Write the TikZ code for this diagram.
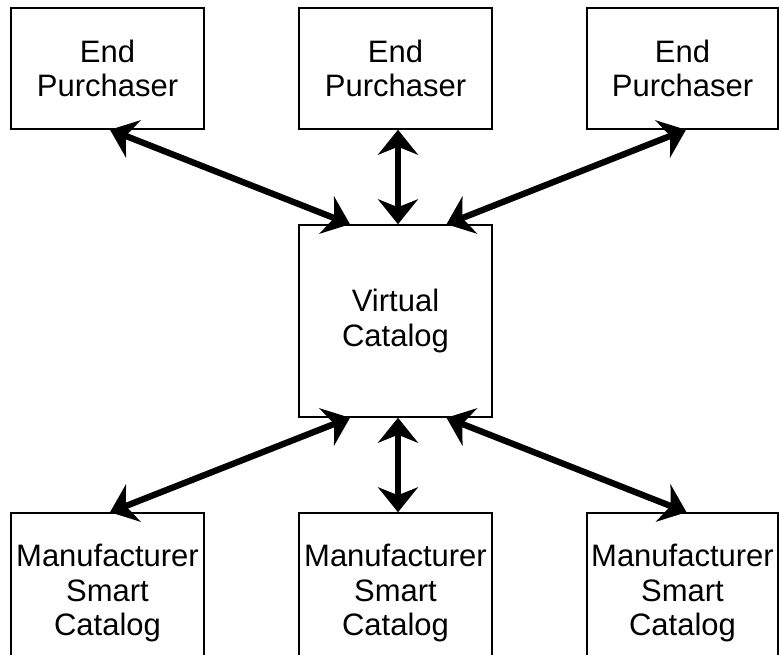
\documentclass[tikz,border=0pt]{standalone}
\usepackage{fontspec}
\setmainfont{Liberation Sans}
\usetikzlibrary{arrows.meta}
\tikzset{
  box/.style={draw=black, line width=1.5pt, rectangle, inner sep=0pt, align=center,
    minimum width=193pt, font=\fontsize{31}{34.5}\selectfont},
  link/.style={line width=6.3pt, {Stealth[length=25pt,width=40pt,inset=8pt]}-{Stealth[length=25pt,width=40pt,inset=8pt]}}
}
\begin{document}
\begin{tikzpicture}[x=1pt,y=-1pt]
\clip (0,0) rectangle (779,655);
\fill[white] (0,0) rectangle (779,655);
\node[box, minimum height=121pt] (tl) at (107.5,68.5) {End\\Purchaser};
\node[box, minimum height=121pt] (tm) at (395.5,68.5) {End\\Purchaser};
\node[box, minimum height=121pt, minimum width=191pt] (tr) at (682.5,68.5) {End\\Purchaser};
\node[box, minimum height=192pt] (vc) at (395.5,321) {Virtual\\Catalog};
\node[box, minimum height=160pt] (bl) at (107.5,593) {Manufacturer\\Smart\\Catalog};
\node[box, minimum height=160pt] (bm) at (395.5,593) {Manufacturer\\Smart\\Catalog};
\node[box, minimum height=160pt, minimum width=191pt] (br) at (682.5,593) {Manufacturer\\Smart\\Catalog};
\draw[link] ([xshift=2.5pt]tl.south) -- ([xshift=-45.5pt]vc.north);
\draw[link] ([xshift=2.5pt]tm.south) -- ([xshift=2.5pt]vc.north);
\draw[link] ([xshift=3.5pt]tr.south) -- ([xshift=51pt]vc.north);
\draw[link] ([xshift=2.5pt]bl.north) -- ([xshift=-45.5pt]vc.south);
\draw[link] ([xshift=2.5pt]bm.north) -- ([xshift=2.5pt]vc.south);
\draw[link] ([xshift=4pt]br.north) -- ([xshift=51pt]vc.south);
\end{tikzpicture}
\end{document}
